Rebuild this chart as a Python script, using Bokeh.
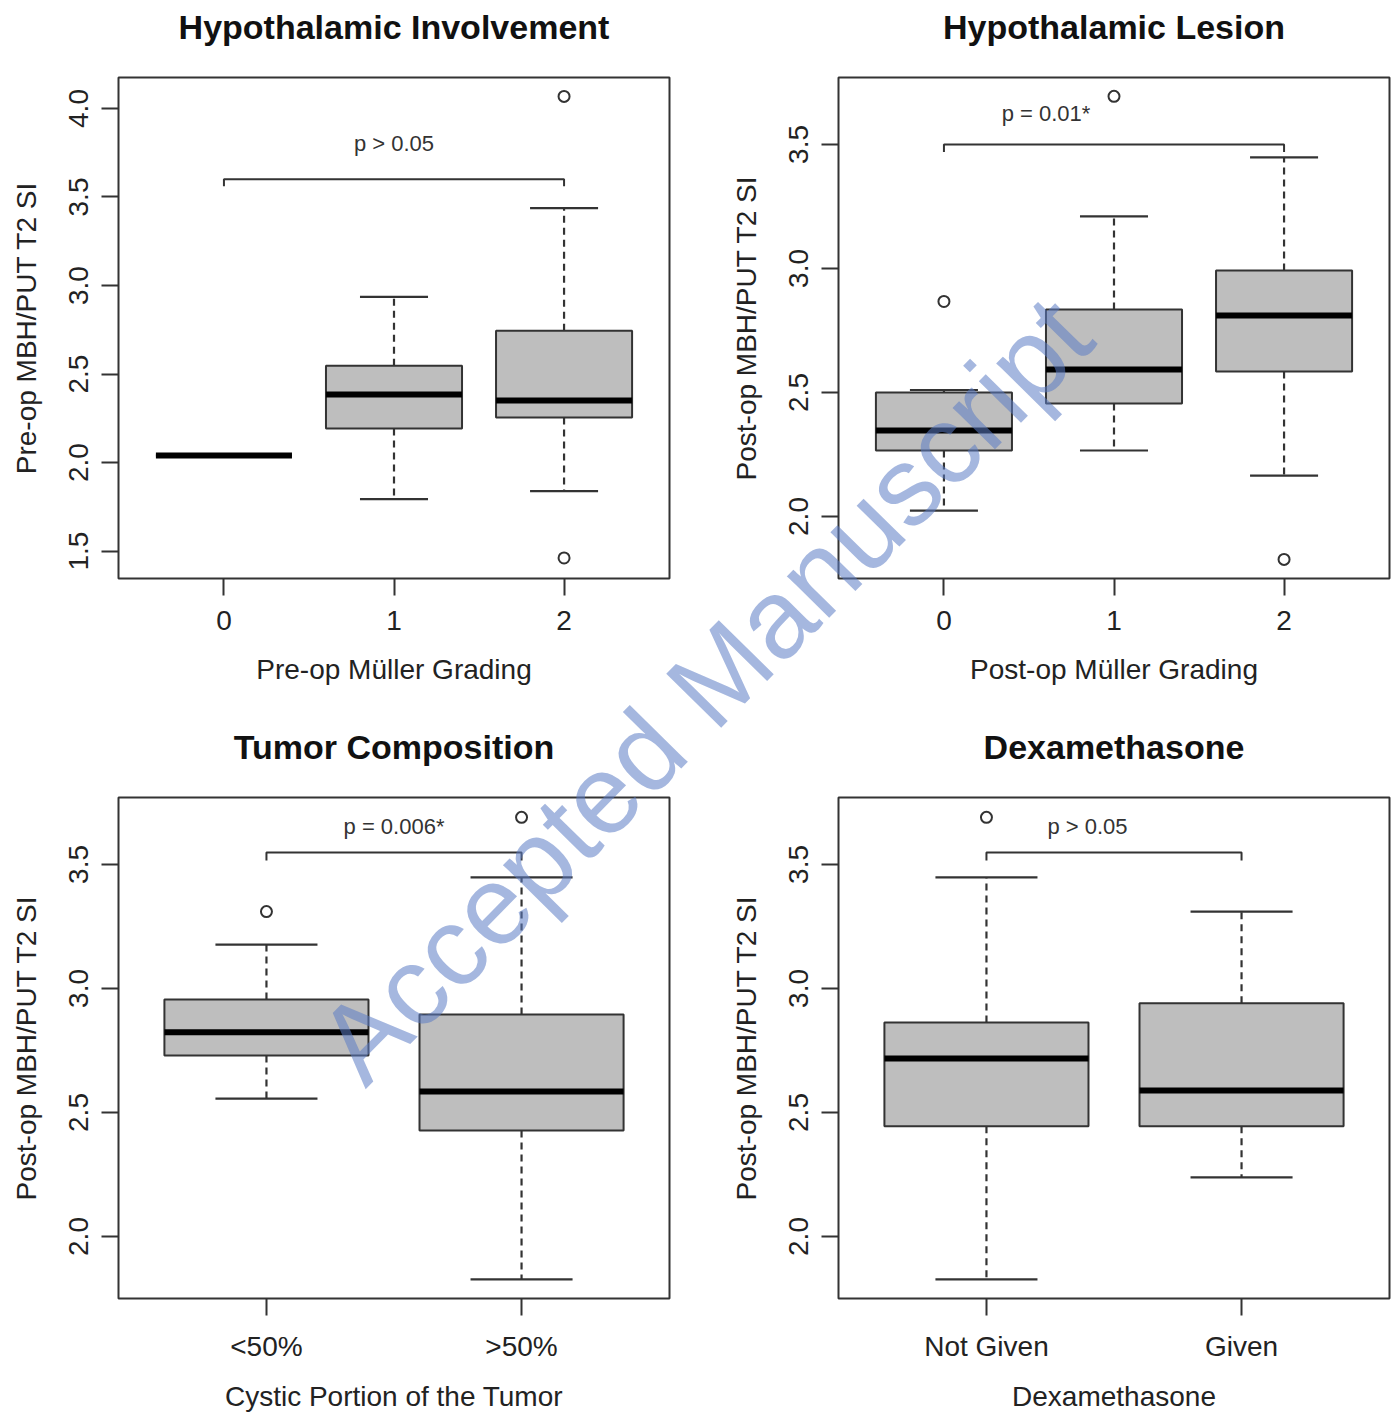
import math
from bokeh.plotting import figure
from bokeh.models import (FixedTicker, ColumnDataSource, NumeralTickFormatter, GridBox, Div,
                          Title)
from bokeh.transform import dodge
from bokeh.embed import file_html
from bokeh.resources import INLINE
from bokeh.core.properties import value

FONT = "Liberation Sans"

# ---------------- data ----------------
# Panel 1: Hypothalamic Involvement
p1_title = "Hypothalamic Involvement"
p1_xlabel = "Pre-op Müller Grading"
p1_ylabel = "Pre-op MBH/PUT T2 SI"
p1_cats = ["0", "1", "2"]
p1_lo = [2.04, 1.793, 1.838]
p1_q1 = [2.04, 2.193, 2.255]
p1_med = [2.04, 2.384, 2.35]
p1_q3 = [2.04, 2.547, 2.744]
p1_hi = [2.04, 2.936, 3.437]
p1_out_cat = ["2", "2"]
p1_out_val = [4.068, 1.461]
p1_yticks = [1.5, 2.0, 2.5, 3.0, 3.5, 4.0]
p1_ylim = (1.345, 4.175)
p1_bracket = ["0", "2"]
p1_bracket_y = [3.60, 3.56]
p1_ptext = "p > 0.05"
p1_ptext_xy = [1.0, 3.80]

# Panel 2: Hypothalamic Lesion
p2_title = "Hypothalamic Lesion"
p2_xlabel = "Post-op Müller Grading"
p2_ylabel = "Post-op MBH/PUT T2 SI"
p2_cats = ["0", "1", "2"]
p2_lo = [2.024, 2.266, 2.165]
p2_q1 = [2.266, 2.456, 2.585]
p2_med = [2.347, 2.593, 2.81]
p2_q3 = [2.50, 2.835, 2.992]
p2_hi = [2.51, 3.21, 3.448]
p2_out_cat = ["0", "1", "2"]
p2_out_val = [2.867, 3.694, 1.827]
p2_yticks = [2.0, 2.5, 3.0, 3.5]
p2_ylim = (1.750, 3.770)
p2_bracket = ["0", "2"]
p2_bracket_y = [3.50, 3.47]
p2_ptext = "p = 0.01*"
p2_ptext_xy = [0.6, 3.625]

# Panel 3: Tumor Composition
p3_title = "Tumor Composition"
p3_xlabel = "Cystic Portion of the Tumor"
p3_ylabel = "Post-op MBH/PUT T2 SI"
p3_cats = ["<50%", ">50%"]
p3_lo = [2.556, 1.827]
p3_q1 = [2.73, 2.427]
p3_med = [2.823, 2.585]
p3_q3 = [2.956, 2.895]
p3_hi = [3.177, 3.448]
p3_out_cat = ["<50%", ">50%"]
p3_out_val = [3.31, 3.69]
p3_yticks = [2.0, 2.5, 3.0, 3.5]
p3_ylim = (1.750, 3.770)
p3_bracket = ["<50%", ">50%"]
p3_bracket_y = [3.548, 3.516]
p3_ptext = "p = 0.006*"
p3_ptext_xy = [0.5, 3.653]

# Panel 4: Dexamethasone
p4_title = "Dexamethasone"
p4_xlabel = "Dexamethasone"
p4_ylabel = "Post-op MBH/PUT T2 SI"
p4_cats = ["Not Given", "Given"]
p4_lo = [1.827, 2.238]
p4_q1 = [2.444, 2.444]
p4_med = [2.718, 2.589]
p4_q3 = [2.863, 2.94]
p4_hi = [3.448, 3.31]
p4_out_cat = ["Not Given"]
p4_out_val = [3.69]
p4_yticks = [2.0, 2.5, 3.0, 3.5]
p4_ylim = (1.750, 3.770)
p4_bracket = ["Not Given", "Given"]
p4_bracket_y = [3.548, 3.516]
p4_ptext = "p > 0.05"
p4_ptext_xy = [0.396, 3.653]

WATERMARK = "Accepted Manuscript"

LINE = "#333333"
BOX_FILL = "#bebebe"


def make_panel(title, xlabel, ylabel, cats, lo, q1, med, q3, hi, out_cat, out_val,
               yticks, ylim, bracket, bracket_y, ptext, ptext_xy,
               W, H, bl, br, bt, bb, xlabel_standoff):
    n = len(cats)
    xs = list(range(n))
    pad = 0.04 * n
    xr = (-0.5 - pad, n - 0.5 + pad)
    p = figure(width=W, height=H, x_range=xr, y_range=ylim,
               output_backend="svg", toolbar_location=None,
               min_border_left=bl, min_border_right=br,
               min_border_top=bt, min_border_bottom=bb)
    p.grid.visible = False
    p.outline_line_color = LINE
    p.outline_line_width = 2
    p.background_fill_color = "white"
    p.border_fill_color = "white"

    # spacer between frame and title, then the title itself
    p.add_layout(Title(text=" ", text_font_size="10px", standoff=14), "above")
    p.add_layout(Title(text=title, text_font=FONT, text_font_size="34px",
                       text_font_style="bold", align="center", text_color="#111111",
                       standoff=10), "above")

    p.xaxis.ticker = FixedTicker(ticks=xs)
    p.xaxis.major_label_overrides = {i: c for i, c in enumerate(cats)}
    p.yaxis.ticker = FixedTicker(ticks=yticks)
    p.yaxis.formatter = NumeralTickFormatter(format="0.0")
    p.yaxis.major_label_orientation = "vertical"
    p.xaxis.axis_label = xlabel
    p.yaxis.axis_label = ylabel
    for ax in (p.xaxis[0], p.yaxis[0]):
        ax.axis_line_color = None
        ax.major_tick_line_color = LINE
        ax.major_tick_line_width = 2
        ax.major_tick_out = 17
        ax.major_tick_in = 0
        ax.minor_tick_line_color = None
        ax.major_label_text_font = FONT
        ax.major_label_text_font_size = "28px"
        ax.major_label_text_color = "#222222"
        ax.axis_label_text_font = FONT
        ax.axis_label_text_font_size = "28px"
        ax.axis_label_text_font_style = "normal"
        ax.axis_label_text_color = "#222222"
    p.xaxis.major_label_standoff = 15
    p.xaxis.axis_label_standoff = xlabel_standoff
    p.yaxis.major_label_standoff = 13
    p.yaxis.axis_label_standoff = 25

    src = ColumnDataSource(dict(x=xs, lo=lo, q1=q1, med=med, q3=q3, hi=hi))
    # whiskers
    p.segment(x0="x", y0="q3", x1="x", y1="hi", source=src, line_color=LINE,
              line_width=2.2, line_dash="7 5")
    p.segment(x0="x", y0="q1", x1="x", y1="lo", source=src, line_color=LINE,
              line_width=2.2, line_dash="7 5")
    # caps
    p.segment(x0=dodge("x", -0.2), y0="hi", x1=dodge("x", 0.2), y1="hi", source=src,
              line_color=LINE, line_width=2.2)
    p.segment(x0=dodge("x", -0.2), y0="lo", x1=dodge("x", 0.2), y1="lo", source=src,
              line_color=LINE, line_width=2.2)
    # boxes
    p.vbar(x="x", width=0.8, bottom="q1", top="q3", source=src,
           fill_color=BOX_FILL, line_color=LINE, line_width=2)
    # medians
    p.segment(x0=dodge("x", -0.4), y0="med", x1=dodge("x", 0.4), y1="med", source=src,
              line_color="black", line_width=6)
    # outliers
    ox = [cats.index(c) for c in out_cat]
    p.scatter(x=ox, y=out_val, marker="circle", size=11, fill_color=None,
              line_color=LINE, line_width=2)
    # significance bracket + label
    a, b = cats.index(bracket[0]), cats.index(bracket[1])
    p.line(x=[a, a, b, b], y=[bracket_y[1], bracket_y[0], bracket_y[0], bracket_y[1]],
           line_color=LINE, line_width=2)
    p.text(x=[ptext_xy[0]], y=[ptext_xy[1]], text=[ptext], text_font=value(FONT),
           text_font_size="22px", text_align="center", text_baseline="middle",
           text_color="#333333")
    return p


W_L, W_R = 720, 677
H_T, H_B = 720, 695

p1 = make_panel(p1_title, p1_xlabel, p1_ylabel, p1_cats, p1_lo, p1_q1, p1_med, p1_q3, p1_hi,
                p1_out_cat, p1_out_val, p1_yticks, p1_ylim, p1_bracket, p1_bracket_y,
                p1_ptext, p1_ptext_xy, W_L, H_T, 118, 51, 77, 142, 21)
p2 = make_panel(p2_title, p2_xlabel, p2_ylabel, p2_cats, p2_lo, p2_q1, p2_med, p2_q3, p2_hi,
                p2_out_cat, p2_out_val, p2_yticks, p2_ylim, p2_bracket, p2_bracket_y,
                p2_ptext, p2_ptext_xy, W_R, H_T, 118, 8, 77, 142, 21)
p3 = make_panel(p3_title, p3_xlabel, p3_ylabel, p3_cats, p3_lo, p3_q1, p3_med, p3_q3, p3_hi,
                p3_out_cat, p3_out_val, p3_yticks, p3_ylim, p3_bracket, p3_bracket_y,
                p3_ptext, p3_ptext_xy, W_L, H_B, 118, 51, 77, 117, 16)
p4 = make_panel(p4_title, p4_xlabel, p4_ylabel, p4_cats, p4_lo, p4_q1, p4_med, p4_q3, p4_hi,
                p4_out_cat, p4_out_val, p4_yticks, p4_ylim, p4_bracket, p4_bracket_y,
                p4_ptext, p4_ptext_xy, W_R, H_B, 118, 8, 77, 117, 16)

# diagonal watermark overlaid on the whole grid (the Div is kept a bit smaller than the
# grid so that it never widens the grid tracks)
DW, DH = W_L + W_R - 20, H_T + H_B - 20
wm_html = (
    '<div style="position:relative; width:%dpx; height:%dpx;">'
    '<div style="position:absolute; left:700px; top:685px; '
    'transform:translate(-50%%,-50%%) rotate(-45.5deg); white-space:nowrap; '
    "font-family:'Liberation Sans'; font-size:112px; line-height:1; "
    'color:rgba(91,124,196,0.55);">%s</div></div>'
) % (DW, DH, WATERMARK)
wm = Div(text=wm_html, width=DW, height=DH,
         styles={"z-index": "10", "pointer-events": "none", "overflow": "visible"})

layout = GridBox(children=[(p1, 0, 0), (p2, 0, 1), (p3, 1, 0), (p4, 1, 1),
                           (wm, 0, 0, 2, 2)], spacing=0)
open("out.html", "w").write(file_html(layout, INLINE))
